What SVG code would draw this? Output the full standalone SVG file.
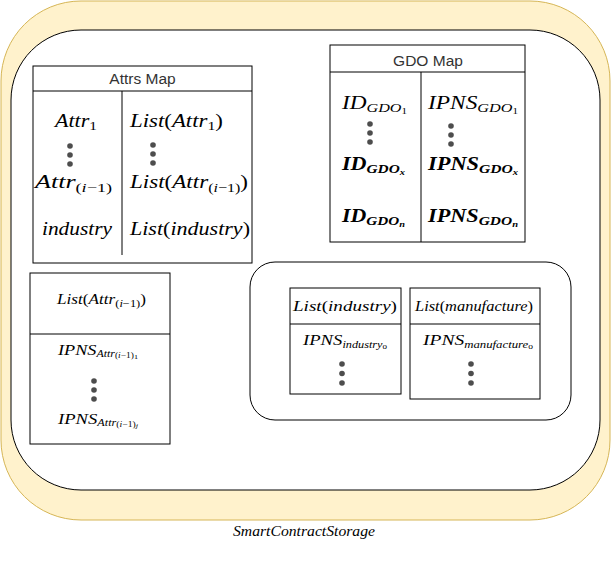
<svg xmlns="http://www.w3.org/2000/svg" width="611" height="566" viewBox="0 0 611 566">
<style>
.box{fill:#fff;stroke:#000;stroke-width:1}
.ln{stroke:#000;stroke-width:1;fill:none}
.hdr{font-family:"Liberation Sans",Arial,sans-serif;font-size:15.5px;fill:#333;text-anchor:middle}
.m{font-family:"Liberation Serif","Times New Roman",serif;font-style:italic;font-size:18px;fill:#000}
.s{font-family:"Liberation Serif","Times New Roman",serif;font-style:italic;font-size:14.5px;fill:#000}
.u{font-style:normal}
.dot{fill:#4d4d4d}
</style>
<rect id="outer" x="1" y="1" width="609" height="519" rx="80" ry="80" fill="#fff2cc" stroke="#d6b656" stroke-width="1"/>
<g id="storage">
<rect x="11" y="30" width="589" height="460" rx="70" ry="70" class="box"/>
</g>
<g id="attrs-map">
<rect x="33" y="66" width="219" height="197" class="box"/>
<line x1="33" y1="91" x2="252" y2="91" class="ln"/>
<line x1="122" y1="91" x2="122" y2="255" class="ln"/>
<text x="142.5" y="84" class="hdr">Attrs Map</text>
<text x="55" y="127" class="m" textLength="42" lengthAdjust="spacingAndGlyphs">Attr<tspan class="u" font-size="12.5" dy="3">1</tspan></text>
<circle cx="70" cy="146" r="2.8" class="dot"/><circle cx="70" cy="155" r="2.8" class="dot"/><circle cx="70" cy="164" r="2.8" class="dot"/>
<text x="35" y="188" class="m" textLength="77" lengthAdjust="spacingAndGlyphs">Attr<tspan font-size="12.5" dy="4"><tspan class="u">(</tspan>i<tspan class="u">−1)</tspan></tspan></text>
<text x="42" y="235" class="m" textLength="70" lengthAdjust="spacingAndGlyphs">industry</text>
<text x="130" y="127" class="m" textLength="93" lengthAdjust="spacingAndGlyphs">List<tspan class="u">(</tspan>Attr<tspan class="u" font-size="12.5" dy="3">1</tspan><tspan class="u" dy="-3">)</tspan></text>
<circle cx="153" cy="145" r="2.8" class="dot"/><circle cx="153" cy="154" r="2.8" class="dot"/><circle cx="153" cy="163" r="2.8" class="dot"/>
<text x="130" y="188" class="m" textLength="118" lengthAdjust="spacingAndGlyphs">List<tspan class="u">(</tspan>Attr<tspan font-size="12.5" dy="4"><tspan class="u">(</tspan>i<tspan class="u">−1)</tspan></tspan><tspan class="u" dy="-4">)</tspan></text>
<text x="130" y="235" class="m" textLength="120" lengthAdjust="spacingAndGlyphs">List<tspan class="u">(</tspan>industry<tspan class="u">)</tspan></text>
</g>
<g id="gdo-map">
<rect x="330" y="45" width="195" height="197" class="box"/>
<line x1="330" y1="72" x2="525" y2="72" class="ln"/>
<line x1="421" y1="72" x2="421" y2="242" class="ln"/>
<text x="428" y="66" class="hdr">GDO Map</text>
<text x="342" y="109" class="m" textLength="65" lengthAdjust="spacingAndGlyphs">ID<tspan font-size="12.5" dy="3">GDO<tspan class="u" font-size="8.5" dy="2">1</tspan></tspan></text>
<circle cx="370" cy="124" r="2.8" class="dot"/><circle cx="370" cy="133" r="2.8" class="dot"/><circle cx="370" cy="142" r="2.8" class="dot"/>
<text x="342" y="170" class="m" textLength="63" lengthAdjust="spacingAndGlyphs" font-weight="bold">ID<tspan font-size="12.5" dy="3">GDO<tspan font-size="8.5" dy="2">x</tspan></tspan></text>
<text x="342" y="222" class="m" textLength="63" lengthAdjust="spacingAndGlyphs" font-weight="bold">ID<tspan font-size="12.5" dy="3">GDO<tspan font-size="8.5" dy="2">n</tspan></tspan></text>
<text x="428" y="109" class="m" textLength="90" lengthAdjust="spacingAndGlyphs">IPNS<tspan font-size="12.5" dy="3">GDO<tspan class="u" font-size="8.5" dy="2">1</tspan></tspan></text>
<circle cx="451" cy="126" r="2.8" class="dot"/><circle cx="451" cy="135" r="2.8" class="dot"/><circle cx="451" cy="144" r="2.8" class="dot"/>
<text x="428" y="170" class="m" textLength="90" lengthAdjust="spacingAndGlyphs" font-weight="bold">IPNS<tspan font-size="12.5" dy="3">GDO<tspan font-size="8.5" dy="2">x</tspan></tspan></text>
<text x="428" y="222" class="m" textLength="90" lengthAdjust="spacingAndGlyphs" font-weight="bold">IPNS<tspan font-size="12.5" dy="3">GDO<tspan font-size="8.5" dy="2">n</tspan></tspan></text>
</g>
<g id="list-attr">
<rect x="30" y="273" width="140" height="171" class="box"/>
<line x1="30" y1="334" x2="170" y2="334" class="ln"/>
<text x="57" y="304" class="s" textLength="89" lengthAdjust="spacingAndGlyphs">List<tspan class="u">(</tspan>Attr<tspan font-size="10.5" dy="3"><tspan class="u">(</tspan>i<tspan class="u">−1)</tspan></tspan><tspan class="u" dy="-3">)</tspan></text>
<text x="58" y="355" class="s" textLength="80" lengthAdjust="spacingAndGlyphs">IPNS<tspan font-size="9.5" dy="2">Attr<tspan font-size="7.5" dy="1"><tspan class="u">(</tspan>i<tspan class="u">−1)</tspan><tspan class="u" font-size="6.5" dy="1">1</tspan></tspan></tspan></text>
<circle cx="94" cy="381" r="2.8" class="dot"/><circle cx="94" cy="390" r="2.8" class="dot"/><circle cx="94" cy="399" r="2.8" class="dot"/>
<text x="58" y="424" class="s" textLength="80" lengthAdjust="spacingAndGlyphs">IPNS<tspan font-size="9.5" dy="2">Attr<tspan font-size="7.5" dy="1"><tspan class="u">(</tspan>i<tspan class="u">−1)</tspan><tspan font-size="6.5" dy="1">j</tspan></tspan></tspan></text>
</g>
<g id="lists-group">
<rect x="250" y="262" width="321" height="158" rx="25" ry="25" class="box"/>
</g>
<g id="list-industry">
<rect x="290" y="288" width="111" height="106" class="box"/>
<line x1="290" y1="324" x2="401" y2="324" class="ln"/>
<text x="293" y="311" class="s" textLength="104" lengthAdjust="spacingAndGlyphs">List<tspan class="u">(</tspan>industry<tspan class="u">)</tspan></text>
<text x="303" y="345" class="s" textLength="84" lengthAdjust="spacingAndGlyphs">IPNS<tspan font-size="9.5" dy="3">industry<tspan class="u" font-size="7" dy="1">0</tspan></tspan></text>
<circle cx="342" cy="364" r="2.8" class="dot"/><circle cx="342" cy="373.5" r="2.8" class="dot"/><circle cx="342" cy="383" r="2.8" class="dot"/>
</g>
<g id="list-manufacture">
<rect x="410" y="288" width="130" height="111" class="box"/>
<line x1="410" y1="324" x2="540" y2="324" class="ln"/>
<text x="415" y="311" class="s" textLength="118" lengthAdjust="spacingAndGlyphs">List<tspan class="u">(</tspan>manufacture<tspan class="u">)</tspan></text>
<text x="423" y="345" class="s" textLength="110" lengthAdjust="spacingAndGlyphs">IPNS<tspan font-size="9.5" dy="3">manufacture<tspan class="u" font-size="7" dy="1">0</tspan></tspan></text>
<circle cx="471" cy="364" r="2.8" class="dot"/><circle cx="471" cy="373.5" r="2.8" class="dot"/><circle cx="471" cy="383" r="2.8" class="dot"/>
</g>
<g id="connectors"></g>
<text x="233" y="536" class="s" textLength="142" lengthAdjust="spacingAndGlyphs" font-size="14">SmartContractStorage</text>
</svg>
